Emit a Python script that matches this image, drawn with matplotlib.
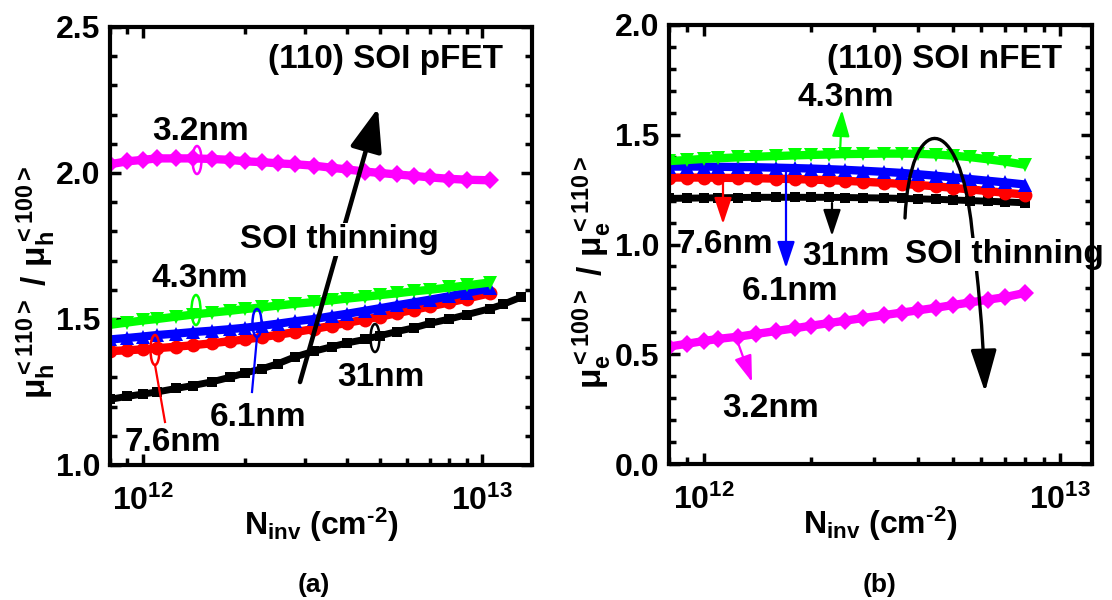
import numpy as np
import matplotlib
matplotlib.use('Agg')
import matplotlib.pyplot as plt
from matplotlib.patches import Ellipse, FancyArrowPatch
from matplotlib.path import Path
from matplotlib.ticker import MultipleLocator, LogLocator, LogFormatterMathtext, NullFormatter, FormatStrFormatter

plt.rcParams['font.family'] = ['Liberation Sans', 'DejaVu Sans']
plt.rcParams['font.weight'] = 'bold'
plt.rcParams['mathtext.fontset'] = 'custom'
plt.rcParams['mathtext.rm'] = 'Liberation Sans:bold'
plt.rcParams['mathtext.it'] = 'Liberation Sans:bold'
plt.rcParams['mathtext.bf'] = 'Liberation Sans:bold'
plt.rcParams['mathtext.sf'] = 'Liberation Sans:bold'
plt.rcParams['mathtext.default'] = 'rm'

# ---------------- data (N_inv in units of 1e12 cm^-2) ----------------
# (a) (110) SOI pFET : mu_h<110> / mu_h<100>
N_a = [0.80, 0.90, 1.0, 1.1, 1.25, 1.4, 1.6, 1.8, 2.0, 2.25, 2.5, 2.8, 3.2, 3.6,
       4.0, 4.5, 5.0, 5.6, 6.3, 7.0, 8.0, 9.0, 10.5]
N_a_31 = [0.80, 0.90, 1.0, 1.1, 1.25, 1.4, 1.6, 1.8, 2.0, 2.25, 2.5, 2.8, 3.2, 3.6,
          4.0, 4.5, 5.0, 5.6, 6.3, 7.0, 8.0, 9.0, 10.5, 11.5, 13.0]
a_32nm = [2.030, 2.040, 2.045, 2.050, 2.050, 2.050, 2.048, 2.045, 2.040, 2.037, 2.033, 2.030,
          2.025, 2.018, 2.012, 2.005, 2.000, 1.995, 1.990, 1.985, 1.980, 1.977, 1.975]
a_43nm = [1.480, 1.488, 1.495, 1.500, 1.508, 1.515, 1.522, 1.528, 1.534, 1.540, 1.546, 1.552,
          1.558, 1.564, 1.570, 1.576, 1.582, 1.588, 1.595, 1.600, 1.608, 1.615, 1.625]
a_61nm = [1.430, 1.435, 1.440, 1.445, 1.450, 1.455, 1.460, 1.465, 1.470, 1.477, 1.484, 1.492,
          1.500, 1.510, 1.518, 1.528, 1.537, 1.547, 1.557, 1.566, 1.578, 1.590, 1.605]
a_76nm = [1.390, 1.393, 1.396, 1.400, 1.405, 1.410, 1.417, 1.424, 1.430, 1.438, 1.446, 1.455,
          1.466, 1.477, 1.487, 1.498, 1.508, 1.520, 1.532, 1.543, 1.557, 1.570, 1.588]
a_31nm = [1.225, 1.235, 1.243, 1.250, 1.262, 1.272, 1.285, 1.300, 1.315, 1.330, 1.347, 1.370,
          1.390, 1.405, 1.418, 1.430, 1.443, 1.457, 1.470, 1.485, 1.500, 1.515, 1.535, 1.550, 1.575]

# (b) (110) SOI nFET : mu_e<100> / mu_e<110>
N_b = [0.80, 0.90, 1.0, 1.1, 1.25, 1.4, 1.6, 1.8, 2.0, 2.25, 2.5, 2.8, 3.2, 3.6,
       4.0, 4.5, 5.0, 5.6, 6.3, 7.0, 8.0]
b_43nm = [1.380, 1.385, 1.390, 1.393, 1.397, 1.400, 1.403, 1.406, 1.408, 1.410, 1.412,
          1.413, 1.414, 1.414, 1.413, 1.410, 1.405, 1.398, 1.388, 1.378, 1.363]
b_61nm = [1.355, 1.355, 1.355, 1.354, 1.353, 1.352, 1.350, 1.348, 1.346, 1.343, 1.340,
          1.336, 1.331, 1.326, 1.320, 1.313, 1.306, 1.298, 1.290, 1.283, 1.273]
b_76nm = [1.305, 1.305, 1.305, 1.304, 1.303, 1.302, 1.300, 1.298, 1.296, 1.293, 1.290,
          1.286, 1.281, 1.276, 1.271, 1.265, 1.258, 1.251, 1.243, 1.236, 1.227]
b_31nm = [1.210, 1.211, 1.212, 1.213, 1.214, 1.215, 1.215, 1.215, 1.215, 1.215, 1.214,
          1.213, 1.212, 1.210, 1.208, 1.206, 1.203, 1.200, 1.197, 1.194, 1.190]
b_32nm = [0.535, 0.548, 0.560, 0.570, 0.580, 0.592, 0.606, 0.618, 0.630, 0.642, 0.653,
          0.665, 0.678, 0.690, 0.700, 0.712, 0.724, 0.736, 0.749, 0.760, 0.780]

C_BLK, C_RED, C_BLU, C_GRN, C_MAG = '#000000', '#FF0000', '#0000FF', '#00FF00', '#FF00FF'

W, H = 1112, 600
fig = plt.figure(figsize=(W / 100, H / 100), dpi=100)


def fx(x):
    return x / W


def fy(y):
    return 1 - y / H


axA = fig.add_axes([110 / W, 1 - 465 / H, 422 / W, 438 / H])
axB = fig.add_axes([669 / W, 1 - 464 / H, 423 / W, 439 / H])

LW, MS = 6.0, 10


def series(ax, N, y, c, m, ms=MS, lw=LW):
    ax.plot(np.array(N) * 1e12, y, color=c, marker=m, ms=ms, lw=lw, mew=0,
            solid_capstyle='butt')


series(axA, N_a_31, a_31nm, C_BLK, 's', 7, 5.0)
series(axA, N_a, a_76nm, C_RED, 'o')
series(axA, N_a, a_61nm, C_BLU, '^')
series(axA, N_a, a_43nm, C_GRN, 'v')
series(axA, N_a, a_32nm, C_MAG, 'D', 9)

series(axB, N_b, b_31nm, C_BLK, 's', 7, 5.0)
series(axB, N_b, b_76nm, C_RED, 'o')
series(axB, N_b, b_61nm, C_BLU, '^')
series(axB, N_b, b_43nm, C_GRN, 'v')
series(axB, N_b, b_32nm, C_MAG, 'D', 9)

HY = '\u2010'
for ax, xl, yl in ((axA, (8e11, 1.4e13), (1.0, 2.5)), (axB, (8e11, 1.23e13), (0.0, 2.0))):
    ax.set_xscale('log')
    ax.set_xlim(*xl)
    ax.set_ylim(*yl)
    ax.xaxis.set_major_locator(LogLocator(base=10, numticks=10))
    ax.xaxis.set_minor_locator(LogLocator(base=10, subs=np.arange(2, 10), numticks=10))
    ax.xaxis.set_major_formatter(LogFormatterMathtext())
    ax.xaxis.set_minor_formatter(NullFormatter())
    ax.yaxis.set_major_locator(MultipleLocator(0.5))
    ax.yaxis.set_minor_locator(MultipleLocator(0.1))
    ax.yaxis.set_major_formatter(FormatStrFormatter('%.1f'))
    ax.tick_params(which='both', direction='in', top=True, right=True, width=2.5,
                   labelsize=23)
    ax.tick_params(which='major', length=8)
    ax.tick_params(which='minor', length=5)
    ax.tick_params(axis='y', pad=7)
    ax.tick_params(axis='x', pad=15)
    for s in ax.spines.values():
        s.set_linewidth(3)
    for lab in ax.get_xticklabels() + ax.get_yticklabels():
        lab.set_fontweight('bold')
    ax.set_xlabel(r'N$_{\mathrm{inv}}$ (cm$^{\mathrm{' + HY + r'2}}$)', fontsize=23,
                  fontweight='bold', labelpad=-8)

fig.text(fx(36), fy(283), r'$\mu_{h}^{<110>}$ / $\mu_{h}^{<100>}$', rotation=90,
         ha='center', va='center', fontsize=24, fontweight='bold')
fig.text(fx(592), fy(273), r'$\mu_{e}^{<100>}$ / $\mu_{e}^{<110>}$', rotation=90,
         ha='center', va='center', fontsize=24, fontweight='bold')

fig.text(fx(314), fy(585), '(a)', ha='center', va='center', fontsize=19, fontweight='bold')
fig.text(fx(880), fy(585), '(b)', ha='center', va='center', fontsize=19, fontweight='bold')


def label(ax, x, yb, s, box=False, fs=24):
    kw = {}
    if box:
        kw['bbox'] = dict(fc='white', ec='none', pad=1)
    ax.text(fx(x), fy(yb), s, transform=fig.transFigure, fontsize=fs, fontweight='bold',
            ha='left', va='baseline', zorder=2.4, clip_on=False, **kw)


def arrow(ax, p0, p1, color, lw, hl, hw, ms=20, z=2.2):
    a = FancyArrowPatch((fx(p0[0]), fy(p0[1])), (fx(p1[0]), fy(p1[1])),
                        transform=fig.transFigure,
                        arrowstyle=f'-|>,head_length={hl},head_width={hw}',
                        mutation_scale=ms, color=color, lw=lw, shrinkA=0, shrinkB=0,
                        zorder=z)
    ax.add_artist(a)
    a.set_clip_on(False)


def line(ax, p0, p1, color, lw=1.6):
    ax.plot([fx(p0[0]), fx(p1[0])], [fy(p0[1]), fy(p1[1])], transform=fig.transFigure,
            color=color, lw=lw, clip_on=False, zorder=2.3)


def ell(ax, x, y, w, h, color):
    e = Ellipse((fx(x), fy(y)), w / W, h / H, transform=fig.transFigure, fill=False,
                ec=color, lw=1.8, zorder=2.3)
    ax.add_artist(e)
    e.set_clip_on(False)


# ---- panel (a) annotations ----
label(axA, 268, 68, '(110) SOI pFET')
label(axA, 152, 140, '3.2nm')
label(axA, 152, 287, '4.3nm')
label(axA, 240, 248, 'SOI thinning', box=True)
label(axA, 210, 426, '6.1nm')
label(axA, 125, 451, '7.6nm')
label(axA, 337, 386, '31nm')
ell(axA, 197, 160, 9, 28, C_MAG)
ell(axA, 196, 310, 9, 30, C_GRN)
ell(axA, 257, 323, 9, 28, C_BLU)
ell(axA, 155, 350, 9, 30, C_RED)
ell(axA, 375, 338, 9, 28, C_BLK)
line(axA, (257, 337), (252, 392), C_BLU)
line(axA, (155, 365), (165, 422), C_RED)
arrow(axA, (300, 382), (378, 108), C_BLK, 3.3, 1.2, 0.45, ms=22)

# ---- panel (b) annotations ----
label(axB, 827, 68, '(110) SOI nFET')
label(axB, 797, 106, '4.3nm')
label(axB, 677, 253, '7.6nm')
label(axB, 802, 265, '31nm')
label(axB, 742, 300, '6.1nm')
label(axB, 722, 417, '3.2nm')
label(axB, 905, 263, 'SOI thinning', box=True)
arrow(axB, (840, 153), (842, 110), C_GRN, 1.6, 0.9, 0.3, ms=18)
arrow(axB, (723, 180), (723, 224), C_RED, 1.6, 0.9, 0.3, ms=18)
arrow(axB, (786, 170), (786, 268), C_BLU, 1.6, 0.9, 0.3, ms=18)
arrow(axB, (832, 203), (832, 236), C_BLK, 1.6, 0.9, 0.3, ms=18)
arrow(axB, (737, 340), (752, 382), C_MAG, 1.6, 0.9, 0.3, ms=18)

pts = [(905, 218), (910, 110), (960, 110), (972, 230), (978, 280), (983, 330), (985, 392)]
codes = [Path.MOVETO] + [Path.CURVE4] * 6
curve = Path([(fx(x), fy(y)) for x, y in pts], codes)
ca = FancyArrowPatch(path=curve, transform=fig.transFigure,
                     arrowstyle='-|>,head_length=1.3,head_width=0.4', mutation_scale=20,
                     color=C_BLK, lw=2.4, zorder=2.2)
axB.add_artist(ca)
ca.set_clip_on(False)

fig.savefig('out.png', dpi=100)
